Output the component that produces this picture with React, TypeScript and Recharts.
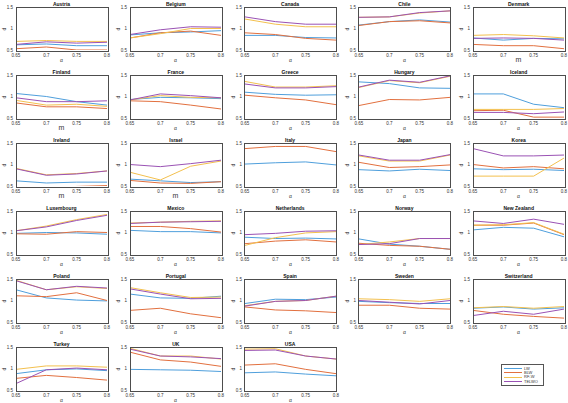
import React from 'react';
import { LineChart, Line, XAxis, YAxis } from 'recharts';

const alphas = [0.65, 0.7, 0.75, 0.8];
const xTicks = [0.65, 0.7, 0.75, 0.8];
const yTicks = [0.5, 1, 1.5];

const countries = [
  'Austria', 'Belgium', 'Canada', 'Chile', 'Denmark',
  'Finland', 'France', 'Greece', 'Hungary', 'Iceland',
  'Ireland', 'Israel', 'Italy', 'Japan', 'Korea',
  'Luxembourg', 'Mexico', 'Netherlands', 'Norway', 'New Zealand',
  'Poland', 'Portugal', 'Spain', 'Sweden', 'Switzerland',
  'Turkey', 'UK', 'USA',
];

const mLabelCountries = ['Denmark', 'Finland', 'Ireland', 'Israel'];

const seriesNames = ['LW', 'BLW', 'RF-W', 'TELWO'];
const seriesKeys = ['lw', 'blw', 'rfw', 'telwo'];
const seriesColors = ['#4f9fdc', '#e2703f', '#f3c04e', '#9a52b4'];

const lw = [
  [0.62, 0.64, 0.6, 0.6], [0.85, 0.9, 0.92, 0.95], [0.84, 0.84, 0.79, 0.78], [1.08, 1.16, 1.2, 1.15], [0.78, 0.73, 0.77, 0.76],
  [1.07, 1.0, 0.88, 0.8], [0.93, 0.98, 0.97, 0.95], [1.1, 1.05, 1.03, 1.04], [1.34, 1.3, 1.2, 1.19], [1.06, 1.06, 0.82, 0.74],
  [0.62, 0.57, 0.59, 0.59], [0.66, 0.62, 0.58, 0.6], [1.01, 1.04, 1.06, 0.99], [0.88, 0.85, 0.89, 0.86], [0.9, 0.88, 0.89, 0.86],
  [0.98, 1.0, 0.99, 0.96], [1.05, 1.02, 1.02, 0.99], [0.89, 0.86, 0.87, 0.85], [0.85, 0.73, 0.68, 0.61], [1.06, 1.12, 1.1, 0.9],
  [1.25, 1.06, 1.01, 0.99], [1.15, 1.06, 1.05, 1.1], [0.93, 1.03, 1.02, 1.08], [0.98, 0.95, 0.93, 0.93], [0.82, 0.85, 0.8, 0.83],
  [0.88, 0.97, 0.99, 0.95], [0.98, 0.97, 0.96, 0.93], [0.9, 0.92, 0.87, 0.83],
];

const blw = [
  [0.53, 0.57, 0.5, 0.5], [0.78, 0.9, 0.94, 0.84], [0.9, 0.86, 0.77, 0.73], [1.07, 1.16, 1.18, 1.13], [0.63, 0.6, 0.6, 0.53],
  [0.85, 0.76, 0.76, 0.72], [0.9, 0.88, 0.8, 0.71], [1.03, 0.97, 0.92, 0.81], [0.79, 0.93, 0.92, 0.98], [0.67, 0.68, 0.52, 0.52],
  [0.45, 0.45, 0.49, 0.51], [0.63, 0.57, 0.56, 0.6], [1.37, 1.42, 1.42, 1.3], [1.05, 0.93, 0.95, 0.99], [1.0, 0.92, 0.95, 0.9],
  [0.97, 0.96, 1.02, 1.0], [1.14, 1.14, 1.09, 1.01], [0.74, 0.8, 0.83, 0.78], [0.75, 0.7, 0.68, 0.61], [1.17, 1.17, 1.22, 0.95],
  [1.11, 1.09, 1.18, 1.0], [0.77, 0.82, 0.69, 0.6], [0.85, 0.78, 0.76, 0.72], [0.89, 0.89, 0.82, 0.8], [0.77, 0.68, 0.63, 0.59],
  [0.77, 0.84, 0.79, 0.73], [1.38, 1.2, 1.15, 1.05], [1.08, 1.11, 0.98, 0.88],
];

const rfw = [
  [0.7, 0.72, 0.7, 0.7], [0.78, 0.88, 1.0, 1.0], [1.22, 1.1, 1.04, 1.04], [1.26, 1.27, 1.36, 1.41], [0.84, 0.86, 0.83, 0.78],
  [0.91, 0.8, 0.82, 0.77], [0.92, 1.02, 0.98, 0.97], [1.35, 1.22, 1.22, 1.25], [1.21, 1.37, 1.32, 1.47], [0.7, 0.7, 0.7, 0.72],
  [0.91, 0.76, 0.79, 0.85], [0.82, 0.64, 0.96, 1.08], [1.6, 1.6, 1.6, 1.6], [1.2, 1.08, 1.08, 1.22], [0.73, 0.73, 0.73, 1.15],
  [1.04, 1.15, 1.3, 1.42], [1.22, 1.24, 1.26, 1.27], [0.7, 0.88, 0.99, 1.02], [0.72, 0.78, 0.86, 0.86], [1.17, 1.18, 1.23, 0.96],
  [1.47, 1.25, 1.32, 1.28], [1.3, 1.18, 1.07, 1.08], [0.88, 0.98, 1.0, 1.1], [1.04, 1.02, 0.98, 1.04], [0.83, 0.86, 0.82, 0.86],
  [0.98, 1.06, 1.06, 1.03], [1.47, 1.29, 1.29, 1.22], [1.45, 1.46, 1.29, 1.22],
];

const telwo = [
  [0.63, 0.69, 0.66, 0.68], [0.86, 0.97, 1.04, 1.03], [1.27, 1.16, 1.1, 1.1], [1.26, 1.27, 1.37, 1.41], [0.77, 0.78, 0.77, 0.73],
  [0.97, 0.88, 0.88, 0.9], [0.92, 1.06, 1.02, 0.97], [1.29, 1.2, 1.2, 1.23], [1.22, 1.38, 1.33, 1.48], [0.63, 0.63, 0.6, 0.64],
  [0.9, 0.75, 0.78, 0.85], [1.0, 0.95, 1.02, 1.1], [1.5, 1.55, 1.55, 1.55], [1.22, 1.1, 1.1, 1.23], [1.37, 1.2, 1.2, 1.22],
  [1.04, 1.13, 1.28, 1.4], [1.21, 1.24, 1.25, 1.26], [0.95, 0.98, 1.03, 1.04], [0.72, 0.74, 0.86, 0.86], [1.27, 1.21, 1.31, 1.19],
  [1.46, 1.25, 1.33, 1.29], [1.27, 1.15, 1.04, 1.05], [0.87, 0.98, 1.0, 1.1], [1.0, 0.96, 0.92, 1.0], [0.65, 0.75, 0.68, 0.8],
  [0.65, 0.97, 1.01, 0.97], [1.45, 1.29, 1.27, 1.23], [1.42, 1.43, 1.29, 1.22],
];

const seriesValues = [lw, blw, rfw, telwo];

const FONT = "'Liberation Sans', Arial, sans-serif";
const PLOT_W = 91;
const PLOT_H = 43;
const COL_STEP = 114.3;
const ROW_STEP = 68;
const PLOT_X0 = 16;
const PLOT_Y0 = 7;
const Y_AXIS_W = 16;
const TOP_M = 10;
const X_AXIS_H = 12;
const BOX = '#4d4d4d';

function Panel({ idx }: { idx: number }) {
  const c = idx % 5;
  const r = Math.floor(idx / 5);
  const plotLeft = PLOT_X0 + COL_STEP * c;
  const plotTop = PLOT_Y0 + ROW_STEP * r;
  const name = countries[idx];
  const data = alphas.map((a, i) => {
    const row: Record<string, number> = { alpha: a };
    seriesKeys.forEach((k, s) => {
      row[k] = seriesValues[s][idx][i];
    });
    return row;
  });
  const xLabel = mLabelCountries.includes(name) ? 'm' : 'α';
  const tickStyle = { fontSize: 4.5, fill: '#333', fontFamily: FONT };
  return (
    <div style={{ position: 'absolute', left: plotLeft - Y_AXIS_W, top: plotTop - TOP_M }}>
      <div
        style={{
          position: 'absolute',
          left: Y_AXIS_W,
          width: PLOT_W,
          top: TOP_M - 6.5,
          textAlign: 'center',
          fontFamily: FONT,
          fontWeight: 'bold',
          fontSize: 5,
          lineHeight: '6px',
          color: '#111',
          zIndex: 2,
          whiteSpace: 'nowrap',
        }}
      >
        {name}
      </div>
      <div
        style={{
          position: 'absolute',
          left: 1,
          top: TOP_M + PLOT_H / 2 - 3,
          width: 6,
          height: 6,
          lineHeight: '6px',
          textAlign: 'center',
          fontFamily: FONT,
          fontSize: 5,
          color: '#333',
          transform: 'rotate(-90deg)',
          zIndex: 2,
        }}
      >
        d
      </div>
      <LineChart
        width={Y_AXIS_W + PLOT_W + 5}
        height={TOP_M + PLOT_H + X_AXIS_H}
        data={data}
        margin={{ top: TOP_M, right: 5, left: 0, bottom: 0 }}
      >
        <XAxis
          dataKey="alpha"
          type="number"
          domain={[0.65, 0.8]}
          ticks={xTicks}
          interval={0}
          allowDataOverflow
          tickLine={false}
          axisLine={false}
          tickSize={2}
          tickMargin={2}
          height={X_AXIS_H}
          tick={tickStyle}
          tickFormatter={(v: number) => String(v)}
          label={{
            value: xLabel,
            position: 'insideBottom',
            offset: 0,
            style: { fontSize: xLabel === 'm' ? 7 : 5, fill: '#333', fontFamily: FONT },
          }}
        />
        <YAxis
          type="number"
          domain={[0.5, 1.5]}
          ticks={yTicks}
          interval={0}
          allowDataOverflow
          tickLine={false}
          axisLine={false}
          tickSize={2}
          tickMargin={1}
          width={Y_AXIS_W}
          tick={tickStyle}
        />
        {seriesKeys.map((k, s) => (
          <Line
            key={k}
            dataKey={k}
            stroke={seriesColors[s]}
            strokeWidth={1}
            dot={false}
            activeDot={false}
            isAnimationActive={false}
            type="linear"
          />
        ))}
      </LineChart>
      <div
        style={{
          position: 'absolute',
          left: Y_AXIS_W - 0.5,
          top: TOP_M - 0.5,
          width: PLOT_W,
          height: PLOT_H,
          border: `1px solid ${BOX}`,
          pointerEvents: 'none',
        }}
      />
    </div>
  );
}

function LegendBox() {
  return (
    <div
      style={{
        position: 'absolute',
        left: 501,
        top: 364,
        width: 41,
        height: 20,
        border: '1px solid #555',
        background: '#fff',
        fontFamily: FONT,
        fontSize: 4,
        color: '#333',
      }}
    >
      {seriesNames.map((n, s) => (
        <div
          key={n}
          style={{ position: 'absolute', left: 2, top: 1.5 + s * 4.4, height: 4, display: 'flex', alignItems: 'center' }}
        >
          <div style={{ width: 18, height: 1, background: seriesColors[s], marginRight: 2 }} />
          <span style={{ lineHeight: '4px' }}>{n}</span>
        </div>
      ))}
    </div>
  );
}

export default function App() {
  return (
    <div style={{ position: 'absolute', left: 0, top: 0, width: 568, height: 403, background: '#fff', overflow: 'hidden' }}>
      {countries.map((_, i) => (
        <Panel key={i} idx={i} />
      ))}
      <LegendBox />
    </div>
  );
}
